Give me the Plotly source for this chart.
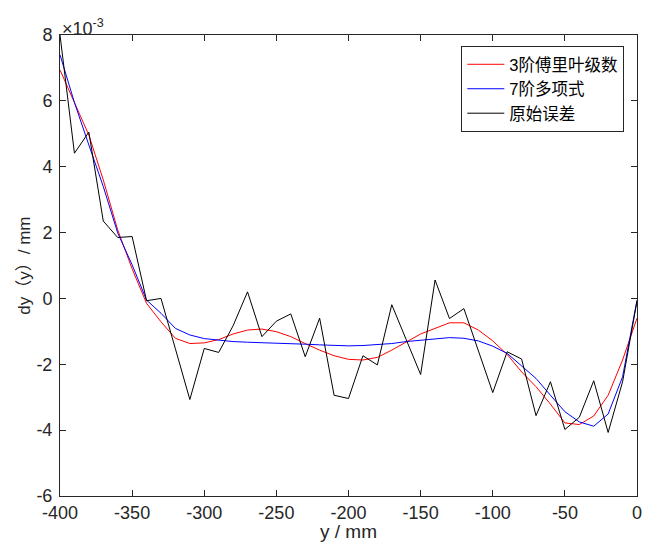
import plotly.graph_objects as go

# positions along y (mm)
y_pos = [-400, -390, -380, -370, -360, -350, -340, -330, -320, -310,
         -300, -290, -280, -270, -260, -250, -240, -230, -220, -210,
         -200, -190, -180, -170, -160, -150, -140, -130, -120, -110,
         -100, -90, -80, -70, -60, -50, -40, -30, -20, -10, 0]

# values in units of 1e-3 mm
raw_error = [8.0, 4.41, 5.05, 2.35, 1.85, 1.88, -0.07, 0.0, -1.53, -3.07,
             -1.52, -1.64, -0.83, 0.20, -1.16, -0.69, -0.47, -1.77, -0.60, -2.94,
             -3.04, -1.74, -2.02, -0.19, -1.25, -2.31, 0.56, -0.61, -0.31, -1.58,
             -2.86, -1.62, -1.84, -3.56, -2.53, -3.98, -3.61, -2.50, -4.07, -2.53, -0.08]

fourier3 = [6.94, 5.95, 4.96, 3.60, 2.08, 0.90, -0.15, -0.71, -1.21, -1.37,
            -1.35, -1.25, -1.08, -0.96, -0.93, -1.01, -1.16, -1.37, -1.57, -1.74,
            -1.85, -1.87, -1.79, -1.57, -1.32, -1.08, -0.91, -0.74, -0.74, -0.96,
            -1.29, -1.70, -2.23, -2.68, -3.21, -3.78, -3.83, -3.57, -2.94, -1.87, -0.60]

poly7 = [7.40, 5.95, 4.66, 3.40, 1.99, 1.02, -0.05, -0.45, -0.91, -1.11,
         -1.22, -1.27, -1.31, -1.33, -1.34, -1.35, -1.37, -1.39, -1.41, -1.43,
         -1.44, -1.43, -1.41, -1.37, -1.31, -1.27, -1.23, -1.19, -1.21, -1.29,
         -1.45, -1.67, -2.05, -2.43, -2.94, -3.44, -3.75, -3.88, -3.51, -2.38, -0.05]

series_names = ["3阶傅里叶级数", "7阶多项式", "原始误差"]

x_tick_vals = [-400, -350, -300, -250, -200, -150, -100, -50, 0]
x_tick_text = ["-400", "-350", "-300", "-250", "-200", "-150", "-100", "-50", "0"]
y_tick_vals = [-6, -4, -2, 0, 2, 4, 6, 8]
y_tick_text = ["-6", "-4", "-2", "0", "2", "4", "6", "8"]

FONT = "Liberation Sans, Arial, Noto Sans CJK SC, sans-serif"
AX = "#262626"

fig = go.Figure()
fig.add_trace(go.Scatter(x=y_pos, y=fourier3, mode="lines", name=series_names[0],
                         line=dict(color="#ff0000", width=1)))
fig.add_trace(go.Scatter(x=y_pos, y=poly7, mode="lines", name=series_names[1],
                         line=dict(color="#0000ff", width=1)))
fig.add_trace(go.Scatter(x=y_pos, y=raw_error, mode="lines", name=series_names[2],
                         line=dict(color="#000000", width=1)))

axis_common = dict(showline=True, linecolor=AX, linewidth=1, mirror="ticks",
                   ticks="inside", ticklen=6, tickcolor=AX, tickwidth=1,
                   showgrid=False, zeroline=False, ticklabeloverflow="allow",
                   tickfont=dict(family=FONT, size=18, color=AX))

fig.update_xaxes(range=[-400, 0], tickvals=x_tick_vals, ticktext=x_tick_text, **axis_common)
fig.update_yaxes(range=[-6, 8], tickvals=y_tick_vals, ticktext=y_tick_text,
                 ticklabelstandoff=3, **axis_common)

fig.update_layout(
    width=647, height=550,
    margin=dict(l=60, r=5, t=35, b=54),
    plot_bgcolor="white", paper_bgcolor="white",
    font=dict(family=FONT, color=AX),
    showlegend=True,
    legend=dict(x=0.978, y=0.976, xanchor="right", yanchor="top",
                bgcolor="white", bordercolor=AX, borderwidth=1,
                itemwidth=37,
                font=dict(family=FONT, size=16.5, color="#000000"),
                tracegroupgap=0),
    annotations=[
        dict(text="y / mm", xref="paper", yref="paper", x=0.5, y=-0.077,
             xanchor="center", yanchor="middle", showarrow=False,
             font=dict(family=FONT, size=19, color=AX)),
        dict(text="dy（y）/ mm", xref="paper", yref="paper", x=-0.062, y=0.5,
             xanchor="center", yanchor="middle", textangle=-90, showarrow=False,
             font=dict(family=FONT, size=17, color=AX)),
        dict(text="×10<sup>-3</sup>", xref="paper", yref="paper", x=0.0, y=0.986,
             xanchor="left", yanchor="bottom", showarrow=False,
             font=dict(family=FONT, size=18, color=AX)),
    ],
)

fig.write_html("out.html",
               config={"displayModeBar": False},
               post_script="document.body.style.margin='0';document.body.style.overflow='hidden';")
